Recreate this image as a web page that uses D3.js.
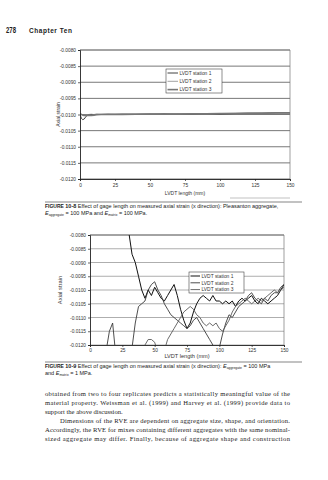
<!DOCTYPE html>
<html><head><meta charset="utf-8">
<script src="https://cdn.jsdelivr.net/npm/d3@7"></script>
<style>body{margin:0;background:#fff}svg{display:block}</style>
</head><body>
<script>
// ---------- data ----------
const stationNames = ["LVDT station 1", "LVDT station 2", "LVDT station 3"];
const yTickValues = [-0.0080, -0.0085, -0.0090, -0.0095, -0.0100, -0.0105, -0.0110, -0.0115, -0.0120];
const yTickLabels = ["-0.0080", "-0.0085", "-0.0090", "-0.0095", "-0.0100", "-0.0105", "-0.0110", "-0.0115", "-0.0120"];
const xTickValues = [0, 25, 50, 75, 100, 125, 150];
const xTickLabels = ["0", "25", "50", "75", "100", "125", "150"];

// Figure 10-8
const fig8Length = [0, 1, 2, 3, 4, 5, 6, 8, 10, 12, 15, 20, 25, 30, 40, 50, 60, 70, 80, 90, 100, 110, 120, 130, 140, 150];
const fig8Station1 = [-0.01000, -0.01012, -0.01016, -0.01014, -0.01008, -0.01003, -0.01001, -0.01000, -0.01000, -0.00999, -0.01000, -0.00999, -0.01000, -0.00999, -0.00999, -0.00998, -0.00999, -0.00998, -0.00998, -0.00997, -0.00998, -0.00997, -0.00996, -0.00996, -0.00995, -0.00995];
const fig8Station2 = [-0.00998, -0.00999, -0.01001, -0.01002, -0.01001, -0.01000, -0.01000, -0.00999, -0.01000, -0.01000, -0.00999, -0.00999, -0.00999, -0.00998, -0.00999, -0.00998, -0.00998, -0.00998, -0.00997, -0.00997, -0.00997, -0.00996, -0.00996, -0.00995, -0.00995, -0.00994];
const fig8Station3 = [-0.00999, -0.01000, -0.01002, -0.01003, -0.01003, -0.01003, -0.01002, -0.01003, -0.01002, -0.01001, -0.01000, -0.01000, -0.00999, -0.01000, -0.00999, -0.00999, -0.00998, -0.00999, -0.00998, -0.00998, -0.00997, -0.00997, -0.00996, -0.00996, -0.00995, -0.00995];

// Figure 10-9
const fig9Length = [0, 2.5, 5, 7.5, 10, 12.5, 15, 17.5, 20, 22.5, 25, 27.5, 30, 32.5, 35, 37.5, 40, 42.5, 45, 47.5, 50, 52.5, 55, 57.5, 60, 62.5, 65, 67.5, 70, 72.5, 75, 77.5, 80, 82.5, 85, 87.5, 90, 92.5, 95, 97.5, 100, 102.5, 105, 107.5, 110, 112.5, 115, 117.5, 120, 122.5, 125, 127.5, 130, 132.5, 135, 137.5, 140, 142.5, 145, 147.5, 150];
const fig9Station1 = [-0.0072, -0.0072, -0.0073, -0.0073, -0.0074, -0.0074, -0.0075, -0.0075, -0.0076, -0.0076, -0.0077, -0.0078, -0.0079, -0.0087, -0.0090, -0.0095, -0.0100, -0.0103, -0.0100, -0.0102, -0.0099, -0.0101, -0.0103, -0.0104, -0.0102, -0.0100, -0.0098, -0.0102, -0.0107, -0.0111, -0.0114, -0.0112, -0.0108, -0.0105, -0.0103, -0.0102, -0.0103, -0.0104, -0.0102, -0.0104, -0.0104, -0.0105, -0.0104, -0.0105, -0.0104, -0.0106, -0.0104, -0.0103, -0.0104, -0.0103, -0.0102, -0.0104, -0.0105, -0.0103, -0.0104, -0.0105, -0.0104, -0.0103, -0.0102, -0.0100, -0.0098];
const fig9Station2 = [-0.0126, -0.0126, -0.0126, -0.0126, -0.0125, -0.0122, -0.0115, -0.0112, -0.0124, -0.0127, -0.0127, -0.0127, -0.0126, -0.0121, -0.0112, -0.0106, -0.0105, -0.0104, -0.0100, -0.0098, -0.0097, -0.0100, -0.0102, -0.0105, -0.0107, -0.0109, -0.0110, -0.0111, -0.0112, -0.0113, -0.0114, -0.0113, -0.0111, -0.0110, -0.0112, -0.0114, -0.0116, -0.0118, -0.0120, -0.0122, -0.0121, -0.0116, -0.0112, -0.0109, -0.0110, -0.0108, -0.0106, -0.0105, -0.0104, -0.0102, -0.0101, -0.0103, -0.0104, -0.0105, -0.0103, -0.0104, -0.0102, -0.0101, -0.0101, -0.0099, -0.0098];
const fig9Station3 = [-0.0127, -0.0127, -0.0127, -0.0127, -0.0127, -0.0127, -0.0127, -0.0127, -0.0127, -0.0127, -0.0127, -0.0127, -0.0127, -0.0127, -0.0127, -0.0127, -0.0124, -0.0120, -0.0118, -0.0118, -0.0119, -0.0123, -0.0126, -0.0122, -0.0118, -0.0116, -0.0114, -0.0112, -0.0110, -0.0108, -0.0107, -0.0106, -0.0107, -0.0109, -0.0110, -0.0112, -0.0113, -0.0112, -0.0113, -0.0112, -0.0114, -0.0115, -0.0113, -0.0111, -0.0108, -0.0106, -0.0105, -0.0104, -0.0103, -0.0104, -0.0105, -0.0104, -0.0103, -0.0104, -0.0103, -0.0102, -0.0101, -0.0100, -0.0101, -0.0100, -0.0099];

const bodyLines = [
  "obtained from two to four replicates predicts a statistically meaningful value of the",
  "material property. Weissman et al. (1999) and Harvey et al. (1999) provide data to",
  "support the above discussion.",
  "Dimensions of the RVE are dependent on aggregate size, shape, and orientation.",
  "Accordingly, the RVE for mixes containing different aggregates with the same nominal-",
  "sized aggregate may differ. Finally, because of aggregate shape and construction"
];

// ---------- drawing ----------
const svg = d3.select("body").append("svg").attr("width", 328).attr("height", 480);
svg.append("rect").attr("width", 328).attr("height", 480).attr("fill", "#fff");

const sans = "'Liberation Sans', Arial, sans-serif";

// header
svg.append("text").attr("x", 6).attr("y", 33).attr("font-family", "'Liberation Sans Narrow','Liberation Sans',sans-serif")
  .attr("font-weight", "bold").attr("font-size", 8.5).attr("fill", "#222").attr("textLength", 10).attr("lengthAdjust", "spacingAndGlyphs").text("278");
svg.append("text").attr("x", 29).attr("y", 33).attr("font-family", "'Liberation Sans Narrow','Liberation Sans',sans-serif")
  .attr("font-weight", "bold").attr("font-size", 6.5).attr("fill", "#222").attr("textLength", 43).attr("lengthAdjust", "spacing").text("Chapter Ten");

function drawChart(o) {
  const g = svg.append("g");
  const x = d3.scaleLinear().domain([0, 150]).range([o.left, o.right]);
  const y = d3.scaleLinear().domain([-0.0080, -0.0120]).range([o.top, o.bottom]);
  const clipId = "clip" + o.id;
  svg.append("clipPath").attr("id", clipId).append("rect")
    .attr("x", o.left).attr("y", o.top).attr("width", o.right - o.left).attr("height", o.bottom - o.top);

  // gridlines
  g.selectAll(".grid").data(yTickValues).join("line")
    .attr("x1", o.left).attr("x2", o.right).attr("y1", d => y(d)).attr("y2", d => y(d))
    .attr("stroke", (d, i) => i === 0 ? "#333" : o.grid).attr("stroke-width", (d, i) => i === 0 ? 0.9 : 0.8);
  // right border
  g.append("line").attr("x1", o.right).attr("x2", o.right).attr("y1", o.top).attr("y2", o.bottom)
    .attr("stroke", "#777").attr("stroke-width", 0.7);

  // lines
  const pts = o.series.map(s => o.xs.map((v, i) => [v, s[i]]));
  const line = d3.line().x(d => x(d[0])).y(d => y(d[1]));
  const lg = g.append("g").attr("clip-path", `url(#${clipId})`);
  pts.forEach((p, i) => {
    lg.append("path").attr("d", line(p)).attr("fill", "none")
      .attr("stroke", o.colors[i]).attr("stroke-width", o.widths[i]).attr("stroke-linejoin", "round");
  });

  // axes
  const yAxis = d3.axisLeft(y).tickValues(yTickValues).tickFormat((d, i) => yTickLabels[i]).tickSize(2).tickPadding(2);
  const ya = g.append("g").attr("transform", `translate(${o.left},0)`).call(yAxis);
  const xAxis = d3.axisBottom(x).tickValues(xTickValues).tickFormat((d, i) => xTickLabels[i]).tickSize(2).tickPadding(o.xPad);
  const xa = g.append("g").attr("transform", `translate(0,${o.bottom})`).call(xAxis);
  [ya, xa].forEach(a => {
    a.select(".domain").attr("stroke", "#222").attr("stroke-width", 0.9);
    a.selectAll(".tick line").attr("stroke", "#222").attr("stroke-width", 0.7);
    a.selectAll("text").attr("font-family", sans).attr("font-size", 4.8).attr("fill", "#333");
  });

  // titles
  g.append("text").attr("transform", `translate(${o.yTitleX},${(o.top + o.bottom) / 2 + o.yTitleDy}) rotate(-90)`)
    .attr("text-anchor", "middle").attr("font-family", sans).attr("font-size", o.yTitleSize).attr("fill", "#333").text("Axial strain");
  g.append("text").attr("x", (o.left + o.right) / 2).attr("y", o.xTitleY).attr("text-anchor", "middle")
    .attr("font-family", sans).attr("font-size", o.xTitleSize).attr("fill", "#333").text("LVDT length (mm)");

  // legend
  const L = o.legend;
  const leg = g.append("g");
  leg.append("rect").attr("x", L.x).attr("y", L.y).attr("width", L.w).attr("height", L.h)
    .attr("fill", "#fff").attr("stroke", "#444").attr("stroke-width", 0.6);
  stationNames.forEach((n, i) => {
    const yy = L.y + L.pad + i * L.step;
    leg.append("line").attr("x1", L.x + 1.5).attr("x2", L.x + L.sw).attr("y1", yy).attr("y2", yy)
      .attr("stroke", o.colors[i]).attr("stroke-width", o.widths[i]);
    leg.append("text").attr("x", L.x + L.sw + 1.5).attr("y", yy + 1.7).attr("font-family", sans)
      .attr("font-size", 4.9).attr("fill", "#333").text(n);
  });
}

drawChart({
  id: 8, left: 80, right: 290, top: 50, bottom: 179, xPad: 3,
  xs: fig8Length, series: [fig8Station1, fig8Station2, fig8Station3],
  colors: ["#111", "#8a8a8a", "#777"], widths: [0.8, 0.8, 1.6], grid: "#555",
  yTitleX: 60, yTitleDy: 0, yTitleSize: 5, xTitleY: 195, xTitleSize: 5,
  legend: { x: 166, y: 69, w: 56, h: 24, pad: 4, step: 8.3, sw: 12 }
});

drawChart({
  id: 9, left: 90, right: 284, top: 235, bottom: 345, xPad: 1.5,
  xs: fig9Length, series: [fig9Station1, fig9Station2, fig9Station3],
  colors: ["#111", "#3a3a3a", "#5a5a5a"], widths: [1.0, 0.9, 0.9], grid: "#999",
  yTitleX: 62, yTitleDy: 0, yTitleSize: 5.8, xTitleY: 358, xTitleSize: 5.6,
  legend: { x: 189, y: 272, w: 55, h: 21, pad: 4, step: 6.8, sw: 11 }
});

// caption rules
svg.append("line").attr("x1", 230).attr("x2", 290).attr("y1", 198).attr("y2", 198).attr("stroke", "#999").attr("stroke-width", 0.6);
svg.append("line").attr("x1", 45).attr("x2", 302).attr("y1", 202).attr("y2", 202).attr("stroke", "#333").attr("stroke-width", 0.6);
svg.append("line").attr("x1", 45).attr("x2", 302).attr("y1", 362).attr("y2", 362).attr("stroke", "#333").attr("stroke-width", 0.6);

function caption(yy, num, rest1, line2) {
  const t = svg.append("text").attr("x", 45).attr("y", yy).attr("font-family", sans).attr("font-size", 5.5).attr("fill", "#222");
  t.append("tspan").attr("font-weight", "bold").attr("font-size", 5).text("FIGURE ");
  t.append("tspan").attr("font-weight", "bold").text(num + "  ");
  rest1(t);
  const t2 = svg.append("text").attr("x", 45).attr("y", yy + 7).attr("font-family", sans).attr("font-size", 5.5).attr("fill", "#222");
  line2(t2);
}
function sub(t, main, s, after) {
  t.append("tspan").attr("font-style", "italic").text(main);
  t.append("tspan").attr("font-size", 3.4).attr("dy", 1.4).text(s);
  t.append("tspan").attr("dy", -1.4).text(after);
}
caption(208, "10-8",
  t => t.append("tspan").text("Effect of gage length on measured axial strain (x direction): Pleasanton aggregate,"),
  t => { sub(t, "E", "aggregate", " = 100 MPa and "); sub(t, "E", "matrix", " = 100 MPa."); });
caption(368, "10-9",
  t => { t.append("tspan").text("Effect of gage length on measured axial strain (x direction): "); sub(t, "E", "aggregate", " = 100 MPa"); },
  t => { t.append("tspan").text("and "); sub(t, "E", "matrix", " = 1 MPa."); });

// body text
bodyLines.forEach((s, i) => {
  const yy = 395.5 + i * 9;
  const indent = i === 3 ? 15 : 0;
  const t = svg.append("text").attr("x", 45 + indent).attr("y", yy)
    .attr("font-family", "'Liberation Serif','DejaVu Serif',serif").attr("font-size", 6.6).attr("fill", "#222").text(s);
  if (i !== 2) t.attr("textLength", 245 - indent).attr("lengthAdjust", "spacing");
});
</script>
</body></html>
